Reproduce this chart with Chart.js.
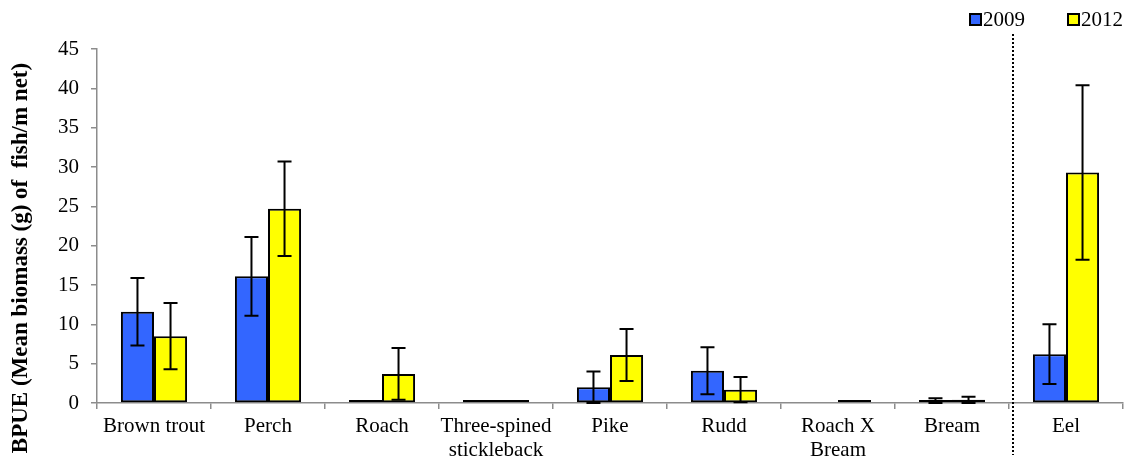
<!DOCTYPE html>
<html>
<head>
<meta charset="utf-8">
<script src="https://cdn.jsdelivr.net/npm/chart.js@4"></script>
<style>
  html, body { margin: 0; padding: 0; background: #fff; }
  #wrap { width: 1133px; height: 463px; }
</style>
</head>
<body>
<div id="wrap"><canvas id="bpueChart" width="1133" height="463"></canvas></div>
<script>
// data (null = no catch)
const species = ['Brown trout', 'Perch', 'Roach', ['Three-spined', 'stickleback'], 'Pike', 'Rudd', ['Roach X', 'Bream'], 'Bream', 'Eel'];
const bpue2009 = [11.6, 16.1, 0.1, 0.1, 2.0, 4.1, null, 0.3, 6.2];
const err2009 = [4.3, 5.0, 0, 0, 2.0, 3.0, 0, 0.3, 3.8];
const bpue2012 = [8.5, 24.7, 3.7, 0.05, 6.1, 1.7, 0.05, 0.4, 29.3];
const err2012 = [4.2, 6.0, 3.3, 0, 3.3, 1.6, 0, 0.4, 11.1];
const yTicks = [0, 5, 10, 15, 20, 25, 30, 35, 40, 45];
const yTitle = 'BPUE (Mean biomass (g) of  fish/m net)';

const axisGrey = '#8c8c8c';
const serif = "'Liberation Serif', 'DejaVu Serif', serif";

// error bars (whiskers) for each dataset
const errorBars = {
    id: 'errorBars',
    afterDatasetsDraw(chart) {
        const ctx = chart.ctx;
        const y = chart.scales.y;
        const errs = [err2009, err2012];
        ctx.save();
        ctx.strokeStyle = '#000';
        ctx.lineWidth = 2;
        chart.data.datasets.forEach((ds, i) => {
            const meta = chart.getDatasetMeta(i);
            meta.data.forEach((bar, j) => {
                const e = errs[i][j];
                if (!e || ds.data[j] == null) return;
                const v = ds.data[j];
                const top = y.getPixelForValue(v + e);
                const bot = y.getPixelForValue(Math.max(v - e, 0));
                ctx.beginPath();
                ctx.moveTo(bar.x, top); ctx.lineTo(bar.x, bot);
                ctx.moveTo(bar.x - 7, top); ctx.lineTo(bar.x + 7, top);
                ctx.moveTo(bar.x - 7, bot); ctx.lineTo(bar.x + 7, bot);
                ctx.stroke();
            });
        });
        ctx.restore();
    }
};

// dotted separator before Eel, y title and legend
const extras = {
    id: 'extras',
    afterDraw(chart) {
        const x = chart.scales.x;
        const ctx = chart.ctx;
        const px = (x.getPixelForValue(7) + x.getPixelForValue(8)) / 2 + 4;
        ctx.save();
        ctx.strokeStyle = '#000';
        ctx.lineWidth = 2;
        ctx.setLineDash([2, 2]);
        ctx.beginPath();
        ctx.moveTo(px, 34);
        ctx.lineTo(px, 455);
        ctx.stroke();
        ctx.setLineDash([]);

        // y axis title
        ctx.save();
        ctx.translate(21, 258);
        ctx.rotate(-Math.PI / 2);
        ctx.font = 'bold 23px ' + serif;
        ctx.fillStyle = '#000';
        ctx.textAlign = 'center';
        ctx.textBaseline = 'middle';
        ctx.fillText(yTitle, 0, 0);
        ctx.restore();

        // legend
        const legendX = [970, 1068];
        ctx.font = '21px ' + serif;
        ctx.textBaseline = 'middle';
        ctx.textAlign = 'left';
        chart.data.datasets.forEach((ds, i) => {
            const bx = legendX[i];
            ctx.fillStyle = ds.backgroundColor;
            ctx.fillRect(bx, 14, 11, 11);
            ctx.lineWidth = 2;
            ctx.strokeStyle = '#000';
            ctx.strokeRect(bx, 14, 11, 11);
            ctx.fillStyle = '#000';
            ctx.fillText(ds.label, bx + 13, 20);
        });
        ctx.restore();
    }
};

const ctx = document.getElementById('bpueChart').getContext('2d');
const chart = new Chart(ctx, {
    type: 'bar',
    data: {
        labels: species,
        datasets: [{
            label: '2009',
            data: bpue2009,
            backgroundColor: '#3366FF',
            borderColor: '#000',
            borderWidth: 2,
            borderSkipped: false,
            minBarLength: 3
        }, {
            label: '2012',
            data: bpue2012,
            backgroundColor: '#FFFF00',
            borderColor: '#000',
            borderWidth: 2,
            borderSkipped: false,
            minBarLength: 3
        }]
    },
    options: {
        responsive: false,
        animation: false,
        layout: { padding: { right: 10, top: 49 } },
        datasets: { bar: { categoryPercentage: 0.58, barPercentage: 1 } },
        plugins: {
            legend: { display: false },
            tooltip: { enabled: false }
        },
        scales: {
            x: {
                afterFit(s) { s.height = 60; },
                border: { color: axisGrey, width: 1.5 },
                grid: { offset: true, drawOnChartArea: false, tickLength: 6, color: axisGrey, lineWidth: 1.5 },
                ticks: { color: '#000', padding: 5, maxRotation: 0, autoSkip: false, font: { family: serif, size: 21, lineHeight: 1.15 } }
            },
            y: {
                min: 0,
                max: 45,
                afterFit(s) { s.width = 97; },
                afterBuildTicks(s) { s.ticks = yTicks.map(v => ({ value: v })); },
                border: { color: axisGrey, width: 1.5 },
                grid: { drawOnChartArea: false, tickLength: 6, color: axisGrey, lineWidth: 1.5 },
                ticks: { color: '#000', padding: 12, font: { family: serif, size: 21 } }
            }
        }
    },
    plugins: [errorBars, extras]
});
</script>
</body>
</html>
